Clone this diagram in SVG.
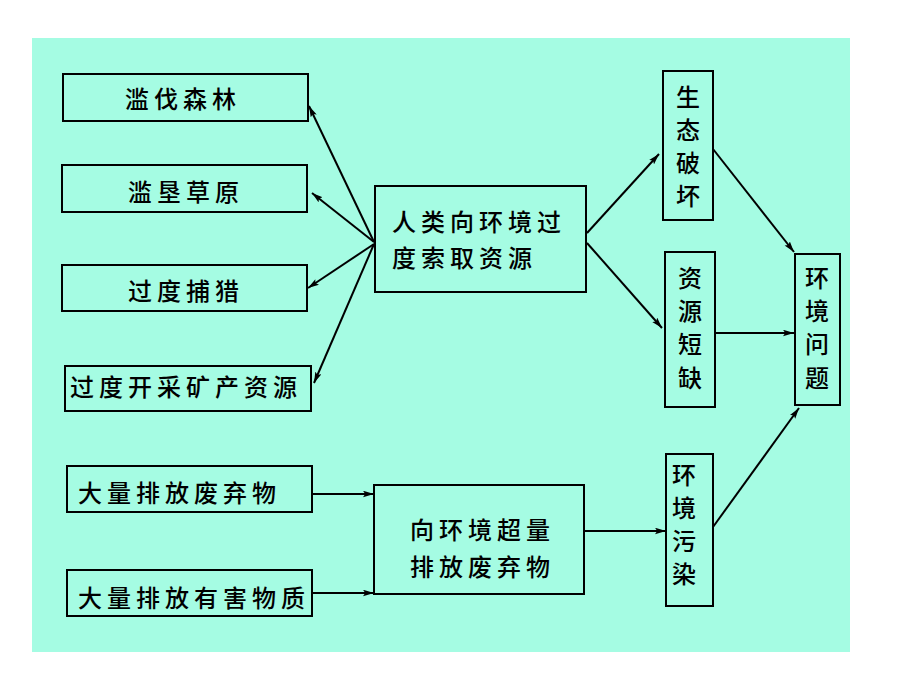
<svg xmlns="http://www.w3.org/2000/svg" width="920" height="690" viewBox="0 0 920 690">
<defs>
<marker id="ah" viewBox="0 0 10 6" refX="10" refY="3" markerWidth="11" markerHeight="7" markerUnits="userSpaceOnUse" orient="auto">
<path d="M0,0 L10,3 L0,6 L2,3 Z" fill="#000"/>
</marker>
<style>
.box{fill:none;stroke:#000;stroke-width:2}
.t{font-family:"Noto Sans CJK SC","Noto Sans CJK JP",sans-serif;font-size:24px;font-weight:500;fill:#000;letter-spacing:5px}
.v{font-family:"Noto Sans CJK SC","Noto Sans CJK JP",sans-serif;font-size:24px;font-weight:500;fill:#000;text-anchor:middle}
.c{fill:none;stroke:#000;stroke-width:2;marker-end:url(#ah)}
</style>
</defs>
<rect x="0" y="0" width="920" height="690" fill="#fff"/>
<rect x="32" y="38" width="818" height="614" fill="#a5fce3"/>

<g id="n1"><rect class="box" x="63" y="74" width="245" height="47"/><text class="t" x="125" y="108">滥伐森林</text></g>
<g id="n2"><rect class="box" x="62" y="165" width="245" height="47"/><text class="t" x="128" y="201">滥垦草原</text></g>
<g id="n3"><rect class="box" x="62" y="265" width="245" height="46"/><text class="t" x="128" y="300">过度捕猎</text></g>
<g id="n4"><rect class="box" x="65" y="366" width="246" height="45"/><text class="t" x="70" y="396">过度开采矿产资源</text></g>
<g id="n5"><rect class="box" x="375" y="186" width="211" height="106"/><text class="t" x="392" y="231">人类向环境过</text><text class="t" x="392" y="267">度索取资源</text></g>
<g id="n6"><rect class="box" x="663" y="71" width="50" height="149"/><text class="v" x="688" y="106">生</text><text class="v" x="688" y="139">态</text><text class="v" x="688" y="172">破</text><text class="v" x="688" y="205">坏</text></g>
<g id="n7"><rect class="box" x="665" y="252" width="50" height="155"/><text class="v" x="690" y="287">资</text><text class="v" x="690" y="320">源</text><text class="v" x="690" y="353">短</text><text class="v" x="690" y="387">缺</text></g>
<g id="n8"><rect class="box" x="795" y="254" width="45" height="151"/><text class="v" x="817" y="287">环</text><text class="v" x="817" y="320">境</text><text class="v" x="817" y="353">问</text><text class="v" x="817" y="387">题</text></g>
<g id="n9"><rect class="box" x="67" y="466" width="245" height="46"/><text class="t" x="78" y="502">大量排放废弃物</text></g>
<g id="n10"><rect class="box" x="67" y="570" width="245" height="46"/><text class="t" x="78" y="607">大量排放有害物质</text></g>
<g id="n11"><rect class="box" x="374" y="485" width="210" height="109"/><text class="t" x="410" y="539">向环境超量</text><text class="t" x="410" y="576">排放废弃物</text></g>
<g id="n12"><rect class="box" x="666" y="454" width="47" height="152"/><text class="v" x="684" y="484">环</text><text class="v" x="684" y="517">境</text><text class="v" x="684" y="550">污</text><text class="v" x="684" y="583">染</text></g>

<g id="connectors">
<line class="c" x1="374" y1="242" x2="309" y2="106"/>
<line class="c" x1="374" y1="242" x2="312" y2="193"/>
<line class="c" x1="374" y1="244" x2="308" y2="288"/>
<line class="c" x1="374" y1="244" x2="314" y2="383"/>
<line class="c" x1="587" y1="233" x2="659" y2="154"/>
<line class="c" x1="587" y1="243" x2="662" y2="328"/>
<line class="c" x1="713" y1="149" x2="794" y2="252"/>
<line class="c" x1="716" y1="333" x2="794" y2="333"/>
<line class="c" x1="713" y1="527" x2="799" y2="408"/>
<line class="c" x1="312" y1="494" x2="374" y2="494"/>
<line class="c" x1="312" y1="593" x2="374" y2="593"/>
<line class="c" x1="584" y1="531" x2="666" y2="531"/>
</g>
</svg>
